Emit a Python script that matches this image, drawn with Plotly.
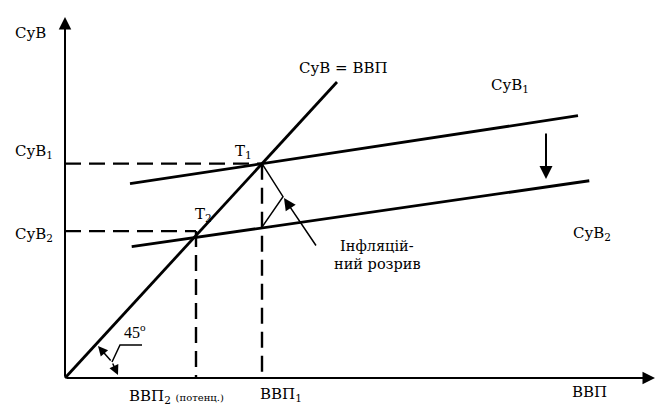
import plotly.graph_objects as go

# ---- data (x: ВВП, y: СуВ; the 45-degree line is y = x) ----
line45_x = [0, 272]
line45_y = [0, 272]
sub1_x = [65, 513]            # СуВ1 expenditure line
sub1_y = [178.6, 241.1]
sub2_x = [66.7, 524.3]        # СуВ2 expenditure line
sub2_y = [120.7, 181.3]
t1 = [197, 197]               # T1 point (ВВП1, СуВ1)
t2 = [131, 131]               # T2 point (ВВП2 potential)
sub2_level = 135              # dashed level of СуВ2
gap_x = [197, 218, 197]       # inflationary gap bracket
gap_y = [197, 166.7, 138.6]
axis_x_end = 590
axis_y_end = 331.8
shift_x = 481
shift_y = [226, 183]
gap_arrow = [[252, 120.4], [219, 165.4]]
angle_mid = [47, 14.7]
angle_ends = [[33, 29.4], [53, 2.8]]
leader_x = [47, 55, 77]
leader_y = [14.7, 30.3, 30.3]

FONT = "DejaVu Serif"
LATIN = "Liberation Serif"
BLACK = "#000000"

fig = go.Figure()

def line(xs, ys, width=2.7, dash="solid"):
    fig.add_trace(go.Scatter(x=xs, y=ys, mode="lines",
                             line=dict(color=BLACK, width=width, dash=dash),
                             hoverinfo="skip", showlegend=False))

# main lines
line(line45_x, line45_y, 2.8)
line(sub1_x, sub1_y, 2.8)
line(sub2_x, sub2_y, 2.8)

# dashed guides
DASH = "16px,8px"
line([0, t1[0]], [t1[1], t1[1]], 2.4, DASH)
line([t1[0], t1[0]], [t1[1], 0], 2.4, DASH)
line([0, t2[0]], [sub2_level, sub2_level], 2.4, DASH)
line([t2[0], t2[0]], [sub2_level, 0], 2.4, DASH)

# inflationary gap bracket
line(gap_x, gap_y, 1.5)
# leader for 45 degree label
line(leader_x, leader_y, 1.5)

def arrow(tail, tip, width=2, size=1.25, head=2):
    fig.add_annotation(x=tip[0], y=tip[1], ax=tail[0], ay=tail[1],
                       xref="x", yref="y", axref="x", ayref="y",
                       text="", showarrow=True, arrowhead=head,
                       arrowwidth=width, arrowsize=size, arrowcolor=BLACK,
                       standoff=0, startstandoff=0)

arrow([0, 0], [0, axis_y_end], 2, 1.25)
arrow([0, 0], [axis_x_end, 0], 2, 1.25)
arrow([shift_x, shift_y[0]], [shift_x, shift_y[1]], 2, 1.3)
arrow(gap_arrow[0], gap_arrow[1], 1.5, 1.6)
arrow(angle_mid, angle_ends[0], 1.5, 1.3)
arrow(angle_mid, angle_ends[1], 1.5, 1.3)

def label(text, x, y, size=15, xanchor="left", family=FONT):
    fig.add_annotation(x=x, y=y, xref="x", yref="y", text=text,
                       showarrow=False, xanchor=xanchor, yanchor="middle",
                       font=dict(family=family, size=size, color=BLACK))

label("СуВ", -52, 317.1)
label("СуВ<sub>1</sub>", -52, 208.5)
label("СуВ<sub>2</sub>", -52, 131.7)
label("Т<sub>1</sub>", 168, 208.5)
label("Т<sub>2</sub>", 128, 150.6)
label("СуВ = ВВП", 232, 284.9)
label("СуВ<sub>1</sub>", 424, 268.7)
label("СуВ<sub>2</sub>", 506, 132.7)
label("Інфляцій-", 312, 121.0, 14.5, "center")
label("ний розрив", 312, 105.0, 14.5, "center")
label("45<sup>o</sup>", 57, 43.2, 16, family=LATIN)
label("ВВП<sub>2</sub> <span style='font-size:10px'>(потенц.)</span>", 62, -17)
label("ВВП<sub>1</sub>", 193, -15.5)
label("ВВП", 505, -13.3)

fig.update_layout(
    width=668, height=414,
    margin=dict(l=0, r=0, t=0, b=0),
    paper_bgcolor="white", plot_bgcolor="white",
    xaxis=dict(range=[-65, 603], visible=False, fixedrange=True),
    yaxis=dict(range=[-33.09, 347.43], visible=False, fixedrange=True),
    showlegend=False,
)

fig.write_html("out.html", config={"displayModeBar": False},
               post_script="document.body.style.margin='0';")
